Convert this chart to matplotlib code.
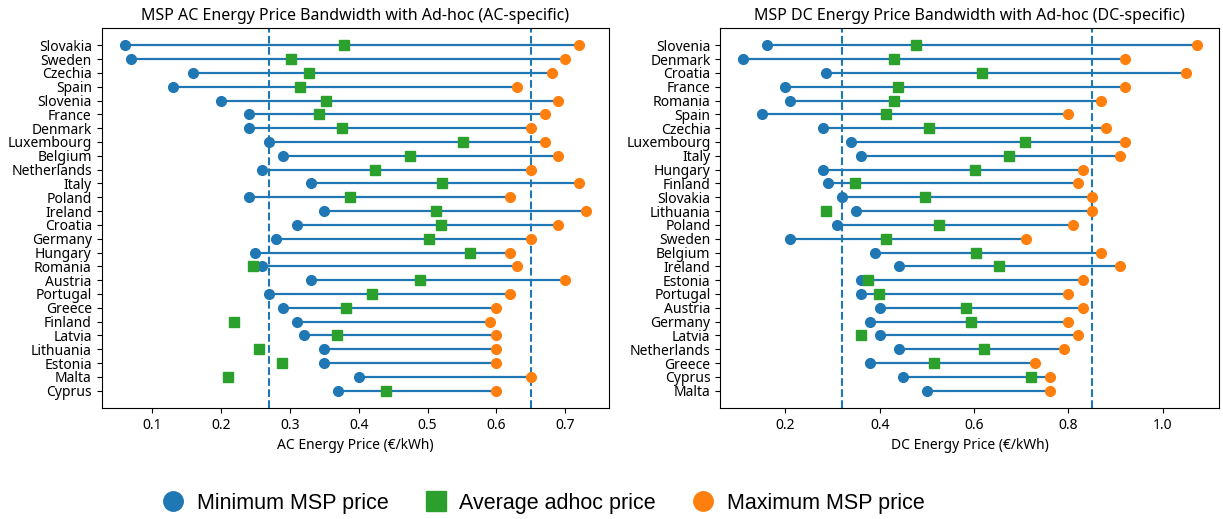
import numpy as np
import matplotlib
matplotlib.use("Agg")
import matplotlib.pyplot as plt
from matplotlib.lines import Line2D

plt.rcParams['font.family'] = ['Noto Sans', 'DejaVu Sans']

# AC panel (top to bottom)
ac_countries = ["Slovakia", "Sweden", "Czechia", "Spain", "Slovenia", "France", "Denmark",
                "Luxembourg", "Belgium", "Netherlands", "Italy", "Poland", "Ireland", "Croatia",
                "Germany", "Hungary", "Romania", "Austria", "Portugal", "Greece", "Finland",
                "Latvia", "Lithuania", "Estonia", "Malta", "Cyprus"]
ac_min = [0.06, 0.07, 0.16, 0.13, 0.20, 0.24, 0.24, 0.27, 0.29, 0.26, 0.33, 0.24, 0.35, 0.31,
          0.28, 0.25, 0.26, 0.33, 0.27, 0.29, 0.31, 0.32, 0.35, 0.35, 0.40, 0.37]
ac_avg = [0.379, 0.302, 0.328, 0.315, 0.352, 0.342, 0.376, 0.551, 0.475, 0.424, 0.521, 0.388,
          0.512, 0.519, 0.502, 0.562, 0.247, 0.489, 0.419, 0.382, 0.219, 0.369, 0.255, 0.289,
          0.21, 0.439]
ac_max = [0.72, 0.70, 0.68, 0.63, 0.69, 0.67, 0.65, 0.67, 0.69, 0.65, 0.72, 0.62, 0.73, 0.69,
          0.65, 0.62, 0.63, 0.70, 0.62, 0.60, 0.59, 0.60, 0.60, 0.60, 0.65, 0.60]
ac_band = [0.27, 0.65]

# DC panel (top to bottom); Malta has no ad-hoc value
dc_countries = ["Slovenia", "Denmark", "Croatia", "France", "Romania", "Spain", "Czechia",
                "Luxembourg", "Italy", "Hungary", "Finland", "Slovakia", "Lithuania", "Poland",
                "Sweden", "Belgium", "Ireland", "Estonia", "Portugal", "Austria", "Germany",
                "Latvia", "Netherlands", "Greece", "Cyprus", "Malta"]
dc_min = [0.16, 0.11, 0.287, 0.20, 0.21, 0.15, 0.28, 0.34, 0.36, 0.28, 0.29, 0.32, 0.35, 0.31,
          0.21, 0.39, 0.44, 0.36, 0.36, 0.40, 0.38, 0.40, 0.44, 0.38, 0.45, 0.50]
dc_avg = [0.476, 0.431, 0.616, 0.439, 0.43, 0.413, 0.505, 0.707, 0.675, 0.603, 0.348, 0.495,
          0.285, 0.526, 0.413, 0.605, 0.653, 0.375, 0.398, 0.583, 0.593, 0.36, 0.62, 0.515,
          0.72, np.nan]
dc_max = [1.072, 0.92, 1.05, 0.92, 0.87, 0.80, 0.88, 0.92, 0.91, 0.83, 0.82, 0.85, 0.85, 0.81,
          0.71, 0.87, 0.91, 0.83, 0.80, 0.83, 0.80, 0.82, 0.79, 0.73, 0.76, 0.76]
dc_band = [0.32, 0.85]

fig = plt.figure(figsize=(12.23, 5.19), dpi=100)
ax1 = fig.add_axes([0.083, 0.214, 0.415, 0.732])
ax2 = fig.add_axes([0.589, 0.214, 0.408, 0.732])


def draw(ax, countries, lo, avg, hi, band, title, xlabel):
    y = np.arange(len(countries))[::-1]
    ax.hlines(y, lo, hi, color="C0", lw=1.6, zorder=1)
    ax.plot(lo, y, "o", color="C0", ms=7, zorder=3)
    ax.plot(avg, y, "s", color="C2", ms=7, zorder=3)
    ax.plot(hi, y, "o", color="C1", ms=7, zorder=3)
    for b in band:
        ax.axvline(b, color="C0", ls="--", lw=1.5, zorder=0)
    ax.set_yticks(y)
    ax.set_yticklabels(countries, fontsize=10)
    ax.tick_params(axis="x", labelsize=10)
    ax.set_title(title, fontsize=11.5)
    ax.set_xlabel(xlabel, fontsize=10)


draw(ax1, ac_countries, ac_min, ac_avg, ac_max, ac_band,
     "MSP AC Energy Price Bandwidth with Ad-hoc (AC-specific)", "AC Energy Price (€/kWh)")
draw(ax2, dc_countries, dc_min, dc_avg, dc_max, dc_band,
     "MSP DC Energy Price Bandwidth with Ad-hoc (DC-specific)", "DC Energy Price (€/kWh)")

handles = [
    Line2D([], [], marker="o", ls="", color="C0", ms=14),
    Line2D([], [], marker="s", ls="", color="C2", ms=14),
    Line2D([], [], marker="o", ls="", color="C1", ms=14),
]
labels = ["Minimum MSP price", "Average adhoc price", "Maximum MSP price"]
fig.legend(handles, labels, loc="center", bbox_to_anchor=(0.44, 0.03), ncol=3, frameon=False,
           prop={"family": "Liberation Sans", "size": 15.5}, handletextpad=0.1, columnspacing=1.2)

fig.savefig("out.png", dpi=100)
